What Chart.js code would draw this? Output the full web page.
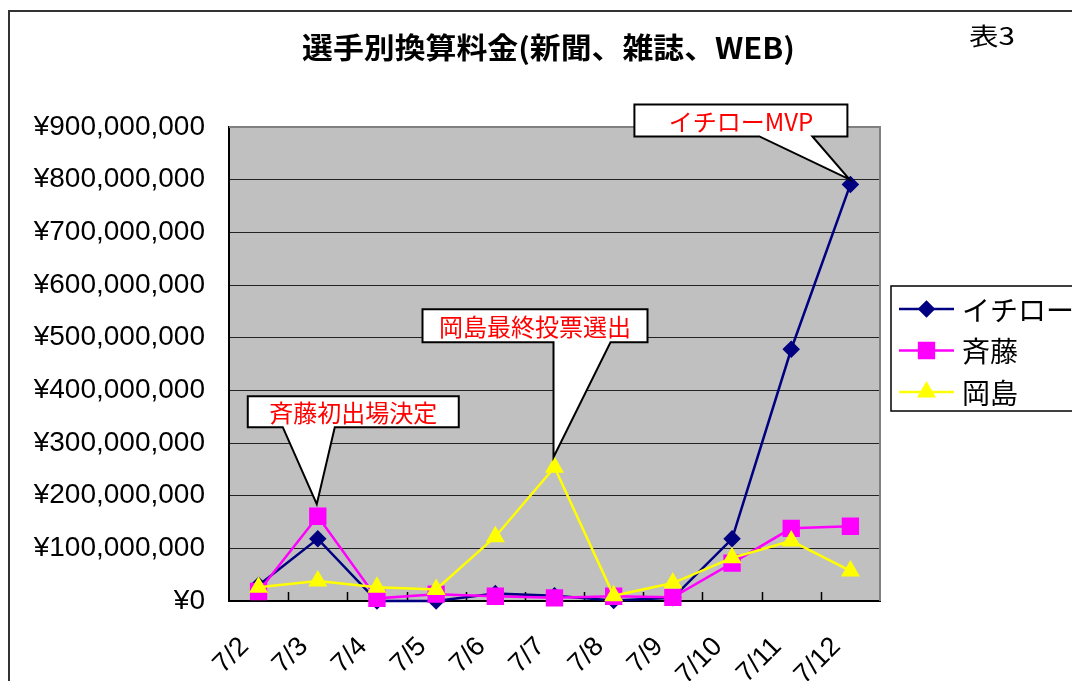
<!DOCTYPE html>
<html><head><meta charset="utf-8">
<script src="https://cdn.jsdelivr.net/npm/chart.js@4"></script>
<style>html,body{margin:0;padding:0;background:#fff;overflow:hidden}canvas{display:block}</style>
</head><body>
<canvas id="c" width="1072" height="681"></canvas>
<script>
// ---- data ----
const categories = ['7/2','7/3','7/4','7/5','7/6','7/7','7/8','7/9','7/10','7/11','7/12'];
const seriesNames = ['イチロー','斉藤','岡島'];
const ichiro  = [30e6, 118e6, 0, 0, 14e6, 10e6, 1e6, 6e6, 118e6, 478e6, 791e6];
const saito   = [18e6, 161e6, 5e6, 13e6, 9e6, 6e6, 9e6, 7e6, 72e6, 138e6, 142e6];
const okajima = [26e6, 38e6, 26e6, 22e6, 122e6, 254e6, 10e6, 34e6, 82e6, 114e6, 57e6];
const yTickValues = [0,100e6,200e6,300e6,400e6,500e6,600e6,700e6,800e6,900e6];
const chartTitle = '選手別換算料金(新聞、雑誌、WEB)';
const tableLabel = '表3';
const calloutTexts = ['斉藤初出場決定','岡島最終投票選出','イチローMVP'];

// ---- callout layout (anchored on data points) ----
const callouts = [
  {text: calloutTexts[0], ds: 1, idx: 1, gap: 12, box: [-69, 142, -108, -77], base: [-34, 18]},
  {text: calloutTexts[1], ds: 2, idx: 5, gap: 10, box: [-131, 94, -148, -115], base: [0, 57]},
  {text: calloutTexts[2], ds: 0, idx: 10, gap: 5, box: [-215, -2, -75, -43], base: [-90, -37]}
];

const JP = '"Noto Sans CJK JP", "Noto Sans", sans-serif';
const LAT = '"Liberation Sans", Arial, sans-serif';

const decor = {
  id: 'decor',
  beforeDraw(chart) {
    const {ctx, chartArea: a} = chart;
    ctx.save();
    ctx.fillStyle = '#fff';
    ctx.fillRect(0, 0, chart.width, chart.height);
    ctx.fillStyle = '#C0C0C0';
    ctx.fillRect(a.left, a.top, a.right - a.left, a.bottom - a.top);
    ctx.restore();
  },
  beforeDatasetsDraw(chart) {
    const {ctx, chartArea: a} = chart;
    ctx.save();
    ctx.strokeStyle = '#808080';
    ctx.lineWidth = 2;
    ctx.beginPath();
    ctx.moveTo(a.left, a.top); ctx.lineTo(a.right, a.top); ctx.lineTo(a.right, a.bottom);
    ctx.stroke();
    const n = categories.length;
    const w = (a.right - a.left) / n;
    ctx.strokeStyle = '#000';
    ctx.lineWidth = 1.5;
    ctx.beginPath();
    for (let i = 1; i < n; i++) {
      const x = Math.round(a.left + i * w) + 0.5;
      ctx.moveTo(x, a.bottom); ctx.lineTo(x, a.bottom - 9);
    }
    ctx.stroke();
    ctx.restore();
  },
  afterDatasetsDraw(chart) {
    const ctx = chart.ctx;
    ctx.save();
    callouts.forEach(c => {
      const el = chart.getDatasetMeta(c.ds).data[c.idx];
      const tx = el.x - 1, ty = el.y - c.gap;
      const L = tx + c.box[0], R = tx + c.box[1], T = ty + c.box[2], B = ty + c.box[3];
      const b1 = tx + c.base[0], b2 = tx + c.base[1];
      ctx.beginPath();
      ctx.moveTo(L, T); ctx.lineTo(R, T); ctx.lineTo(R, B);
      ctx.lineTo(b2, B); ctx.lineTo(tx, ty); ctx.lineTo(b1, B);
      ctx.lineTo(L, B); ctx.closePath();
      ctx.fillStyle = '#fff';
      ctx.fill();
      ctx.strokeStyle = '#000';
      ctx.lineWidth = 2;
      ctx.lineJoin = 'miter';
      ctx.stroke();
      ctx.fillStyle = '#FF0000';
      ctx.font = '24px ' + JP;
      ctx.textAlign = 'center';
      ctx.textBaseline = 'middle';
      ctx.fillText(c.text, (L + R) / 2, (T + B) / 2 + 1);
    });
    ctx.restore();
  },
  afterDraw(chart) {
    const ctx = chart.ctx;
    ctx.save();
    ctx.strokeStyle = '#333';
    ctx.lineWidth = 2;
    ctx.beginPath();
    ctx.moveTo(9, chart.height + 2); ctx.lineTo(9, 11); ctx.lineTo(chart.width + 2, 11);
    ctx.stroke();
    // title
    ctx.font = 'bold 29px ' + JP;
    ctx.fillStyle = '#000';
    ctx.textBaseline = 'middle';
    ctx.textAlign = 'left';
    const tw = ctx.measureText(chartTitle).width;
    ctx.save();
    ctx.translate(302, 48);
    ctx.scale(493 / tw, 1);
    ctx.fillText(chartTitle, 0, 0);
    ctx.restore();
    // table label
    ctx.font = '24px ' + JP;
    ctx.save();
    const lw = ctx.measureText(tableLabel).width;
    ctx.translate(969, 36);
    ctx.scale(46 / lw, 1);
    ctx.fillText(tableLabel, 0, 0);
    ctx.restore();
    // legend
    const lx = 891, ly = 286, lh = 125;
    ctx.fillStyle = '#fff';
    ctx.fillRect(lx, ly, 300, lh);
    ctx.strokeStyle = '#000';
    ctx.lineWidth = 1.5;
    ctx.strokeRect(lx, ly, 300, lh);
    chart.data.datasets.forEach((ds, i) => {
      const y = 309 + i * 41.5;
      ctx.strokeStyle = ds.borderColor;
      ctx.lineWidth = 2.5;
      ctx.beginPath(); ctx.moveTo(899, y); ctx.lineTo(954, y); ctx.stroke();
      ctx.fillStyle = ds.backgroundColor;
      Chart.helpers.drawPoint(ctx, {pointStyle: ds.pointStyle, radius: ds.pointRadius, rotation: 0, borderWidth: 1}, 926.5, y);
      ctx.fillStyle = '#000';
      ctx.font = '28px ' + JP;
      ctx.textAlign = 'left';
      ctx.textBaseline = 'middle';
      ctx.fillText(ds.label, 962, y + 1);
    });
    ctx.restore();
  }
};

const mk = (label, data, color, style, r, order) => ({
  label, data, borderColor: color, backgroundColor: color,
  pointBackgroundColor: color, pointBorderColor: color,
  pointStyle: style, pointRadius: r, pointHoverRadius: r, borderWidth: 2.5,
  tension: 0, clip: false, order
});

new Chart(document.getElementById('c'), {
  type: 'line',
  data: {
    labels: categories,
    datasets: [
      mk(seriesNames[0], ichiro, '#000080', 'rectRot', 7, 2),
      mk(seriesNames[1], saito, '#FF00FF', 'rect', 10.5, 1),
      mk(seriesNames[2], okajima, '#FFFF00', 'triangle', 8.5, 0)
    ]
  },
  options: {
    responsive: false,
    animation: false,
    devicePixelRatio: 1,
    layout: {padding: {top: 127, right: 192, left: 0, bottom: 0}},
    plugins: {legend: {display: false}, title: {display: false}, tooltip: {enabled: false}},
    scales: {
      x: {
        offset: true,
        grid: {display: false},
        border: {display: true, color: '#000', width: 2},
        ticks: {color: '#000', font: {family: LAT, size: 27}, minRotation: 45, maxRotation: 45,
                autoSkip: false, padding: 22, labelOffset: -14},
        afterFit(s) { s.height = 80; }
      },
      y: {
        min: 0, max: 900e6,
        afterBuildTicks(s) { s.ticks = yTickValues.map(v => ({value: v})); },
        grid: {color: '#222', lineWidth: 1, drawTicks: false},
        border: {display: true, color: '#000', width: 2},
        ticks: {color: '#000', font: {family: LAT, size: 28}, padding: 24,
                callback: v => '¥' + Number(v).toLocaleString('en-US')},
        afterFit(s) { s.width = 229; }
      }
    }
  },
  plugins: [decor]
});
</script>
</body></html>
